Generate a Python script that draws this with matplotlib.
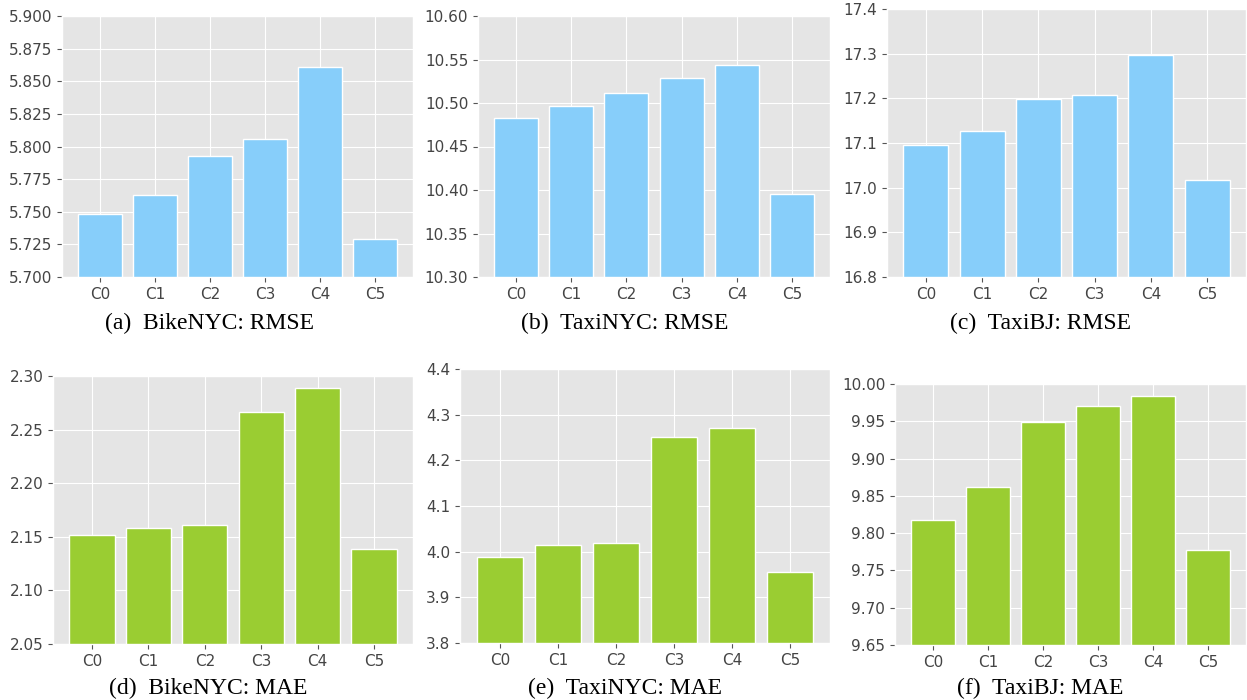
import matplotlib.pyplot as plt
import numpy as np

plt.style.use("ggplot")

configs = ["C0", "C1", "C2", "C3", "C4", "C5"]

bike_rmse = [5.748, 5.763, 5.793, 5.806, 5.861, 5.729]
taxi_rmse = [10.483, 10.496, 10.511, 10.529, 10.544, 10.395]
bj_rmse = [17.096, 17.126, 17.199, 17.207, 17.298, 17.017]
bike_mae = [2.152, 2.158, 2.161, 2.266, 2.289, 2.139]
taxi_mae = [3.989, 4.014, 4.020, 4.251, 4.271, 3.955]
bj_mae = [9.818, 9.862, 9.949, 9.971, 9.984, 9.778]

captions = ["(a)  BikeNYC: RMSE", "(b)  TaxiNYC: RMSE", "(c)  TaxiBJ: RMSE",
            "(d)  BikeNYC: MAE", "(e)  TaxiNYC: MAE", "(f)  TaxiBJ: MAE"]

# y ticks for each panel (start, stop, step, format)
yticks = [
    (5.700, 5.900, 0.025, "{:.3f}"),
    (10.30, 10.60, 0.05, "{:.2f}"),
    (16.8, 17.4, 0.1, "{:.1f}"),
    (2.05, 2.30, 0.05, "{:.2f}"),
    (3.8, 4.4, 0.1, "{:.1f}"),
    (9.65, 10.00, 0.05, "{:.2f}"),
]

data = [bike_rmse, taxi_rmse, bj_rmse, bike_mae, taxi_mae, bj_mae]
colors = ["#87CEFA"] * 3 + ["#9ACD32"] * 3

W, H = 1247, 700
# axes boxes in pixels: left, top, right, bottom
boxes = [
    (62, 16, 413, 277),
    (478, 16, 830, 277),
    (887, 9, 1246, 277),
    (53, 376, 413, 644),
    (460, 369, 830, 643),
    (895, 384, 1246, 645),
]
cap_pos = [(209, 323), (625, 323), (1041, 323), (208, 688), (625, 688), (1040, 688)]

fig = plt.figure(figsize=(W / 100, H / 100), dpi=100)

for i in range(6):
    l, t, r, b = boxes[i]
    ax = fig.add_axes([l / W, 1 - b / H, (r - l) / W, (b - t) / H])
    x = np.arange(len(configs))
    ax.bar(x, data[i], color=colors[i], edgecolor="white", linewidth=1)
    ax.set_xticks(x)
    ax.set_xticklabels(configs)
    lo, hi, step, fmt = yticks[i]
    n = int(round((hi - lo) / step))
    ticks = [lo + k * step for k in range(n + 1)]
    ax.set_yticks(ticks)
    ax.set_yticklabels([fmt.format(v) for v in ticks])
    ax.set_ylim(lo, hi)
    ax.tick_params(labelsize=11, colors="#555555", labelcolor="#444444")
    cx, cy = cap_pos[i]
    fig.text(cx / W, 1 - cy / H, captions[i], ha="center", va="center",
             fontsize=17, family="Liberation Serif", color="black")

plt.savefig("out.png", dpi=100)
